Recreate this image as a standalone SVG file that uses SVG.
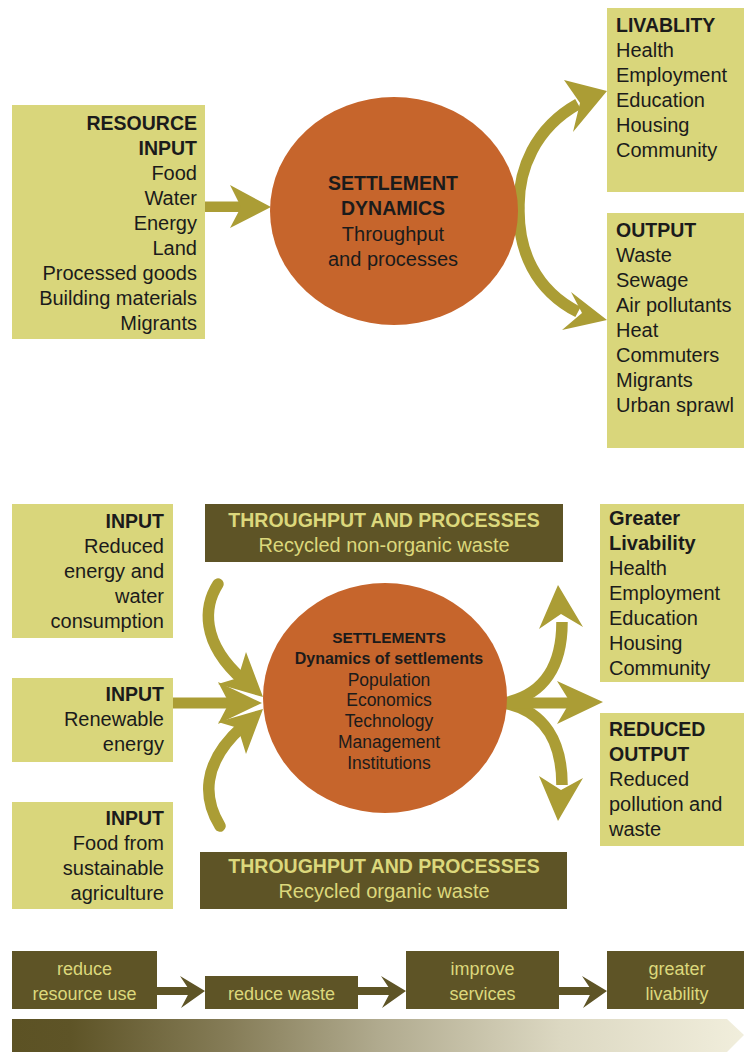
<svg xmlns="http://www.w3.org/2000/svg" width="744" height="1053" viewBox="0 0 744 1053">
<defs>
<style>
.t{font-family:'Liberation Sans',Arial,sans-serif;font-size:20px;fill:#1b1b1b}
.b{font-weight:bold;font-size:19.5px}
.e{text-anchor:end}
.m{text-anchor:middle}
.lt{fill:#dcd87c}
.box{fill:#d9d67b}
.dark{fill:#5e5426}
.circ{fill:#c6652c}
.arw{fill:#ab9d35}
.shaft{fill:none;stroke:#ab9d35;stroke-width:11.5}
.dshaft{fill:none;stroke:#5e5426;stroke-width:8}
.dhead{fill:#5e5426}
</style>
<linearGradient id="grad" x1="0" y1="0" x2="1" y2="0">
<stop offset="0" stop-color="#5c5224"/>
<stop offset="0.08" stop-color="#5e5427"/>
<stop offset="0.3" stop-color="#867d58"/>
<stop offset="0.5" stop-color="#b0aa8e"/>
<stop offset="0.75" stop-color="#dcd8c2"/>
<stop offset="1" stop-color="#f1eedc"/>
</linearGradient>
</defs>
<rect width="744" height="1053" fill="#ffffff"/>

<g id="connectors">
<!-- top section -->
<rect x="205" y="201.5" width="36" height="10.5" class="arw"/>
<polygon class="arw" points="230,185 271,207 230,228 241,207"/>
<path class="shaft" d="M 578 104 C 535 128, 518 170, 519 208 C 518 250, 535 290, 578 312"/>
<polygon class="arw" points="564,80 607,91 573,132 580,103"/>
<polygon class="arw" points="571,292 607,320 562,330 582,313"/>
<!-- middle section inputs -->
<path class="shaft" stroke-linecap="round" d="M 218 584 C 204 606, 200 642, 243 680"/>
<path class="shaft" stroke-linecap="round" d="M 220 826 C 204 800, 200 764, 243 726"/>
<rect x="173" y="697.5" width="60" height="11" class="arw"/>
<polygon class="arw" points="246,652 263,697 218,684 238,678"/>
<polygon class="arw" points="218,682 262,703 218,724 229,703"/>
<polygon class="arw" points="246,754 263,709 218,722 238,728"/>
<!-- middle section outputs -->
<path class="shaft" d="M 504 703 C 545 695, 562 665, 562 622"/>
<path class="shaft" d="M 504 703 C 545 711, 562 742, 562 785"/>
<rect x="504" y="697.5" width="68" height="11" class="arw"/>
<polygon class="arw" points="539,629 558,585 583,627 561,614"/>
<polygon class="arw" points="557,681 603,702 557,724 570,702"/>
<polygon class="arw" points="539,776 558,821 583,778 561,790"/>
<!-- bottom row -->
<line class="dshaft" x1="157" y1="991" x2="190" y2="991"/>
<polygon class="dhead" points="180,976 205,991 181,1008 190,991"/>
<line class="dshaft" x1="358" y1="991" x2="392" y2="991"/>
<polygon class="dhead" points="381,976 406,991 382,1008 391,991"/>
<line class="dshaft" x1="559" y1="991" x2="593" y2="991"/>
<polygon class="dhead" points="582,976 607,991 583,1008 592,991"/>
</g>

<g id="resource-input">
<rect class="box" x="12" y="105" width="193" height="234"/>
<text class="t b e" x="197" y="130">RESOURCE</text>
<text class="t b e" x="197" y="155">INPUT</text>
<text class="t e" x="197" y="180">Food</text>
<text class="t e" x="197" y="205">Water</text>
<text class="t e" x="197" y="230">Energy</text>
<text class="t e" x="197" y="255">Land</text>
<text class="t e" x="197" y="280">Processed goods</text>
<text class="t e" x="197" y="305">Building materials</text>
<text class="t e" x="197" y="330">Migrants</text>
</g>

<g id="settlement-dynamics">
<ellipse class="circ" cx="394" cy="211" rx="124" ry="114"/>
<text class="t b m" x="393" y="190">SETTLEMENT</text>
<text class="t b m" x="393" y="215">DYNAMICS</text>
<text class="t m" x="393" y="241">Throughput</text>
<text class="t m" x="393" y="266">and processes</text>
</g>

<g id="livability">
<rect class="box" x="607" y="8" width="137" height="184"/>
<text class="t b" x="616" y="32">LIVABLITY</text>
<text class="t" x="616" y="57">Health</text>
<text class="t" x="616" y="82">Employment</text>
<text class="t" x="616" y="107">Education</text>
<text class="t" x="616" y="132">Housing</text>
<text class="t" x="616" y="157">Community</text>
</g>

<g id="output">
<rect class="box" x="607" y="213" width="137" height="235"/>
<text class="t b" x="616" y="237">OUTPUT</text>
<text class="t" x="616" y="262">Waste</text>
<text class="t" x="616" y="287">Sewage</text>
<text class="t" x="616" y="312">Air pollutants</text>
<text class="t" x="616" y="337">Heat</text>
<text class="t" x="616" y="362">Commuters</text>
<text class="t" x="616" y="387">Migrants</text>
<text class="t" x="616" y="412">Urban sprawl</text>
</g>

<g id="input-reduced">
<rect class="box" x="12" y="504" width="161" height="134"/>
<text class="t b e" x="164" y="528">INPUT</text>
<text class="t e" x="164" y="553">Reduced</text>
<text class="t e" x="164" y="578">energy and</text>
<text class="t e" x="164" y="603">water</text>
<text class="t e" x="164" y="628">consumption</text>
</g>

<g id="input-renewable">
<rect class="box" x="12" y="678" width="161" height="84"/>
<text class="t b e" x="164" y="701">INPUT</text>
<text class="t e" x="164" y="726">Renewable</text>
<text class="t e" x="164" y="751">energy</text>
</g>

<g id="input-food">
<rect class="box" x="12" y="802" width="161" height="107"/>
<text class="t b e" x="164" y="825">INPUT</text>
<text class="t e" x="164" y="850">Food from</text>
<text class="t e" x="164" y="875">sustainable</text>
<text class="t e" x="164" y="900">agriculture</text>
</g>

<g id="throughput-nonorganic">
<rect class="dark" x="205" y="504" width="358" height="58"/>
<text class="t b m lt" x="384" y="527" style="font-size:19.5px">THROUGHPUT AND PROCESSES</text>
<text class="t m lt" x="384" y="552">Recycled non-organic waste</text>
</g>

<g id="throughput-organic">
<rect class="dark" x="200" y="852" width="367" height="57"/>
<text class="t b m lt" x="384" y="873" style="font-size:19.5px">THROUGHPUT AND PROCESSES</text>
<text class="t m lt" x="384" y="898">Recycled organic waste</text>
</g>

<g id="settlements">
<ellipse class="circ" cx="385" cy="698" rx="122" ry="115"/>
<text class="t m" x="389" y="643" style="font-weight:bold;font-size:15.5px">SETTLEMENTS</text>
<text class="t m" x="389" y="664" style="font-weight:bold;font-size:16px">Dynamics of settlements</text>
<text class="t m" x="389" y="686" style="font-size:17.5px">Population</text>
<text class="t m" x="389" y="706" style="font-size:17.5px">Economics</text>
<text class="t m" x="389" y="727" style="font-size:17.5px">Technology</text>
<text class="t m" x="389" y="748" style="font-size:17.5px">Management</text>
<text class="t m" x="389" y="769" style="font-size:17.5px">Institutions</text>
</g>

<g id="greater-livability">
<rect class="box" x="600" y="504" width="144" height="178"/>
<text class="t" x="609" y="525" style="font-weight:bold">Greater</text>
<text class="t" x="609" y="550" style="font-weight:bold">Livability</text>
<text class="t" x="609" y="575">Health</text>
<text class="t" x="609" y="600">Employment</text>
<text class="t" x="609" y="625">Education</text>
<text class="t" x="609" y="650">Housing</text>
<text class="t" x="609" y="675">Community</text>
</g>

<g id="reduced-output">
<rect class="box" x="600" y="713" width="144" height="133"/>
<text class="t b" x="609" y="736">REDUCED</text>
<text class="t b" x="609" y="761">OUTPUT</text>
<text class="t" x="609" y="786">Reduced</text>
<text class="t" x="609" y="811">pollution and</text>
<text class="t" x="609" y="836">waste</text>
</g>

<g id="step-reduce-resource">
<rect class="dark" x="12" y="951" width="145" height="58"/>
<text class="t m lt" x="84.5" y="975" style="font-size:18px">reduce</text>
<text class="t m lt" x="84.5" y="1000" style="font-size:18px">resource use</text>
</g>

<g id="step-reduce-waste">
<rect class="dark" x="205" y="976" width="153" height="33"/>
<text class="t m lt" x="281.5" y="1000" style="font-size:18px">reduce waste</text>
</g>

<g id="step-improve-services">
<rect class="dark" x="406" y="951" width="153" height="58"/>
<text class="t m lt" x="482.5" y="975" style="font-size:18px">improve</text>
<text class="t m lt" x="482.5" y="1000" style="font-size:18px">services</text>
</g>

<g id="step-greater-livability">
<rect class="dark" x="607" y="951" width="137" height="58"/>
<text class="t m lt" x="677" y="975" style="font-size:18px">greater</text>
<text class="t m lt" x="677" y="1000" style="font-size:18px">livability</text>
</g>

<g id="progress-bar">
<polygon fill="url(#grad)" points="12,1019 727,1019 744,1035 727,1052 12,1052"/>
</g>
</svg>
